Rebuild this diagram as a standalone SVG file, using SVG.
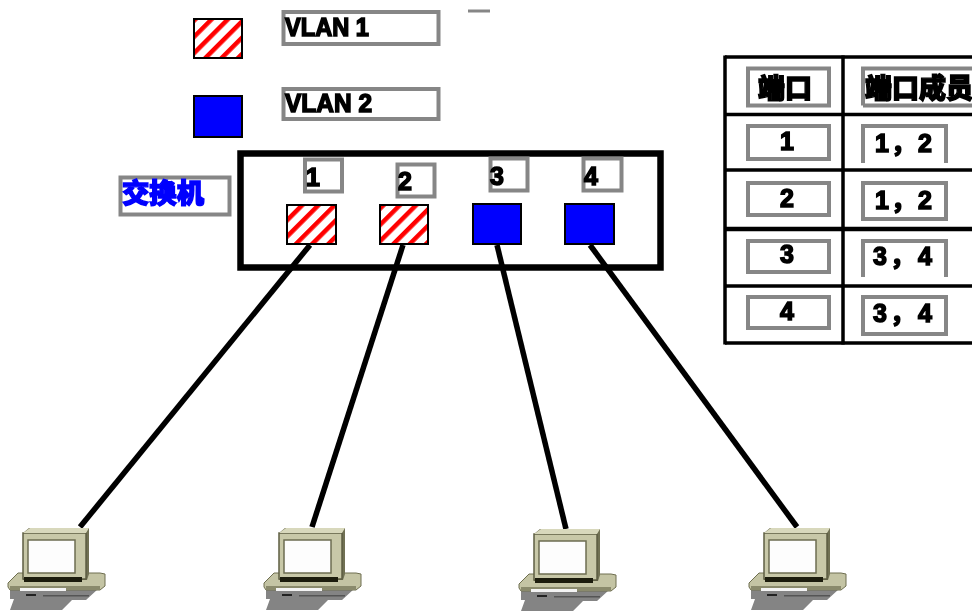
<svg xmlns="http://www.w3.org/2000/svg" xmlns:xlink="http://www.w3.org/1999/xlink" width="972" height="611" viewBox="0 0 972 611">
<style>
.box{fill:none;stroke:#868686;stroke-width:4}
.t{font-family:"Liberation Sans","Noto Sans CJK SC",sans-serif;font-weight:700;font-size:25px;fill:#000;stroke:#000;stroke-width:1.500}
.c{font-family:"Noto Sans CJK SC","Liberation Sans",sans-serif;font-weight:900;font-size:27px;fill:#000;stroke:#000;stroke-width:1.400}
.m{text-anchor:middle}
.sw{fill:url(#hatch);stroke:#000;stroke-width:2}
.bl{fill:#0000fe;stroke:#000;stroke-width:2}
.link{stroke:#000;stroke-width:5.500;fill:none}
.tl{stroke:#000;stroke-width:3.500;fill:none}
</style>
<defs>
<filter id="soft" x="0" y="0" width="100%" height="100%"><feGaussianBlur stdDeviation="0.45"/></filter>
<pattern id="hatch" width="11.500" height="11.500" patternUnits="userSpaceOnUse" patternTransform="rotate(45)">
<rect width="11.500" height="11.500" fill="#fff"/>
<rect width="4.500" height="11.500" fill="#f00"/>
</pattern>
<g id="pc">
<path d="M10 589H98L86 600H72L62 610H10L14 599H10Z" fill="#848484"/>
<path d="M8 583L18 573H100L105 574V586L100 590H10L8 587Z" fill="#c4c4a4" stroke="#6e6e50" stroke-width="1"/>
<path d="M10 586H100V590H10Z" fill="#8a8a6c"/>
<rect x="20" y="588" width="46" height="3" fill="#f4f4f4"/>
<rect x="26" y="594" width="10" height="2" fill="#222"/>
<rect x="43" y="595" width="46" height="1.500" fill="#555"/>
<path d="M23 533L29 528H89V574L87 580H23Z" fill="#6f6f52"/>
<rect x="23" y="533" width="63" height="46" fill="#c8c8a8" stroke="#5e5e42" stroke-width="1.500"/>
<path d="M23 533L30 528H89L86 533Z" fill="#d8d8bc"/>
<rect x="28" y="540" width="47" height="33" fill="#fdfdfd" stroke="#6c6c50" stroke-width="1.500"/>
<rect x="24" y="577" width="58" height="5" fill="#1a1a10"/>
</g>
</defs>
<g filter="url(#soft)">
<rect width="972" height="611" fill="#fff"/>
<g id="connectors">
<line class="link" x1="310" y1="245" x2="80" y2="527"/>
<line class="link" x1="403" y1="245" x2="312" y2="527"/>
<line class="link" x1="497" y1="245" x2="566" y2="529"/>
<line class="link" x1="590" y1="245" x2="797" y2="527"/>
</g>
<g id="legend-vlan1">
<rect class="sw" x="194" y="19" width="48" height="39"/>
<rect class="box" x="283.500" y="12" width="155" height="32"/>
<text class="t" x="285" y="36" textLength="84" lengthAdjust="spacingAndGlyphs">VLAN 1</text>
</g>
<g id="legend-vlan2">
<rect class="bl" x="194" y="96" width="48" height="41"/>
<rect class="box" x="283.500" y="89" width="155" height="30"/>
<text class="t" x="285" y="112" textLength="87" lengthAdjust="spacingAndGlyphs">VLAN 2</text>
</g>
<line id="dash" x1="468" y1="11" x2="490" y2="11" stroke="#868686" stroke-width="3"/>
<g id="switch-label">
<rect class="box" x="120.500" y="177.500" width="109" height="37"/>
<text class="c" x="122" y="203" style="fill:#0000fe;stroke:#0000fe" textLength="82" lengthAdjust="spacingAndGlyphs">交换机</text>
</g>
<g id="switch">
<rect x="240.500" y="153.500" width="420" height="114" fill="none" stroke="#000" stroke-width="6.500"/>
</g>
<g id="port1">
<rect class="box" x="305" y="159.500" width="37" height="32"/>
<text class="t m" x="313" y="186">1</text>
<rect class="sw" x="287" y="205" width="49" height="39"/>
</g>
<g id="port2">
<rect class="box" x="397.500" y="164.500" width="37" height="32"/>
<text class="t m" x="405" y="190">2</text>
<rect class="sw" x="380" y="205" width="48" height="39"/>
</g>
<g id="port3">
<rect class="box" x="490.500" y="158.500" width="37" height="32"/>
<text class="t m" x="497" y="185">3</text>
<rect class="bl" x="473" y="204" width="48" height="40"/>
</g>
<g id="port4">
<rect class="box" x="583.500" y="158.500" width="38" height="32"/>
<text class="t m" x="591" y="185">4</text>
<rect class="bl" x="565" y="204" width="49" height="40"/>
</g>
<g id="table">
<path class="tl" d="M725 57H972M725 114.500H972M725 170H972M725 286H972M725 343H972"/>
<path d="M725 229H972" stroke="#000" stroke-width="4.500"/>
<path d="M725 55.500V344.500M843 55.500V344.500" stroke="#000" stroke-width="3.500"/>
<rect class="box" x="748" y="68.500" width="81" height="37"/>
<path class="box" d="M863 105.500H972M863 105.500V68.500H972"/>
<text class="c" x="758" y="98">端口</text>
<text class="c" x="865" y="98">端口成员</text>
<rect class="box" x="748" y="126" width="81" height="33"/>
<path class="box" d="M863 163V126H946V163"/>
<text class="t m" x="787" y="150">1</text>
<text class="t" x="875" y="152" textLength="57">1，2</text>
<rect class="box" x="748" y="183" width="81" height="32"/>
<rect class="box" x="863" y="183" width="83" height="36"/>
<text class="t m" x="787" y="207">2</text>
<text class="t" x="875" y="209" textLength="57">1，2</text>
<rect class="box" x="748" y="241" width="81" height="31"/>
<path class="box" d="M863 277V241H946V277"/>
<text class="t m" x="787" y="263">3</text>
<text class="t" x="873" y="265" textLength="59">3，4</text>
<rect class="box" x="748" y="297" width="81" height="31"/>
<rect class="box" x="863" y="297" width="83" height="37"/>
<text class="t m" x="787" y="320">4</text>
<text class="t" x="873" y="322" textLength="59">3，4</text>
</g>
<g id="pc1"><use href="#pc"/></g>
<g id="pc2"><use href="#pc" x="256"/></g>
<g id="pc3"><use href="#pc" x="511" y="1"/></g>
<g id="pc4"><use href="#pc" x="741"/></g>
</g>
</svg>
